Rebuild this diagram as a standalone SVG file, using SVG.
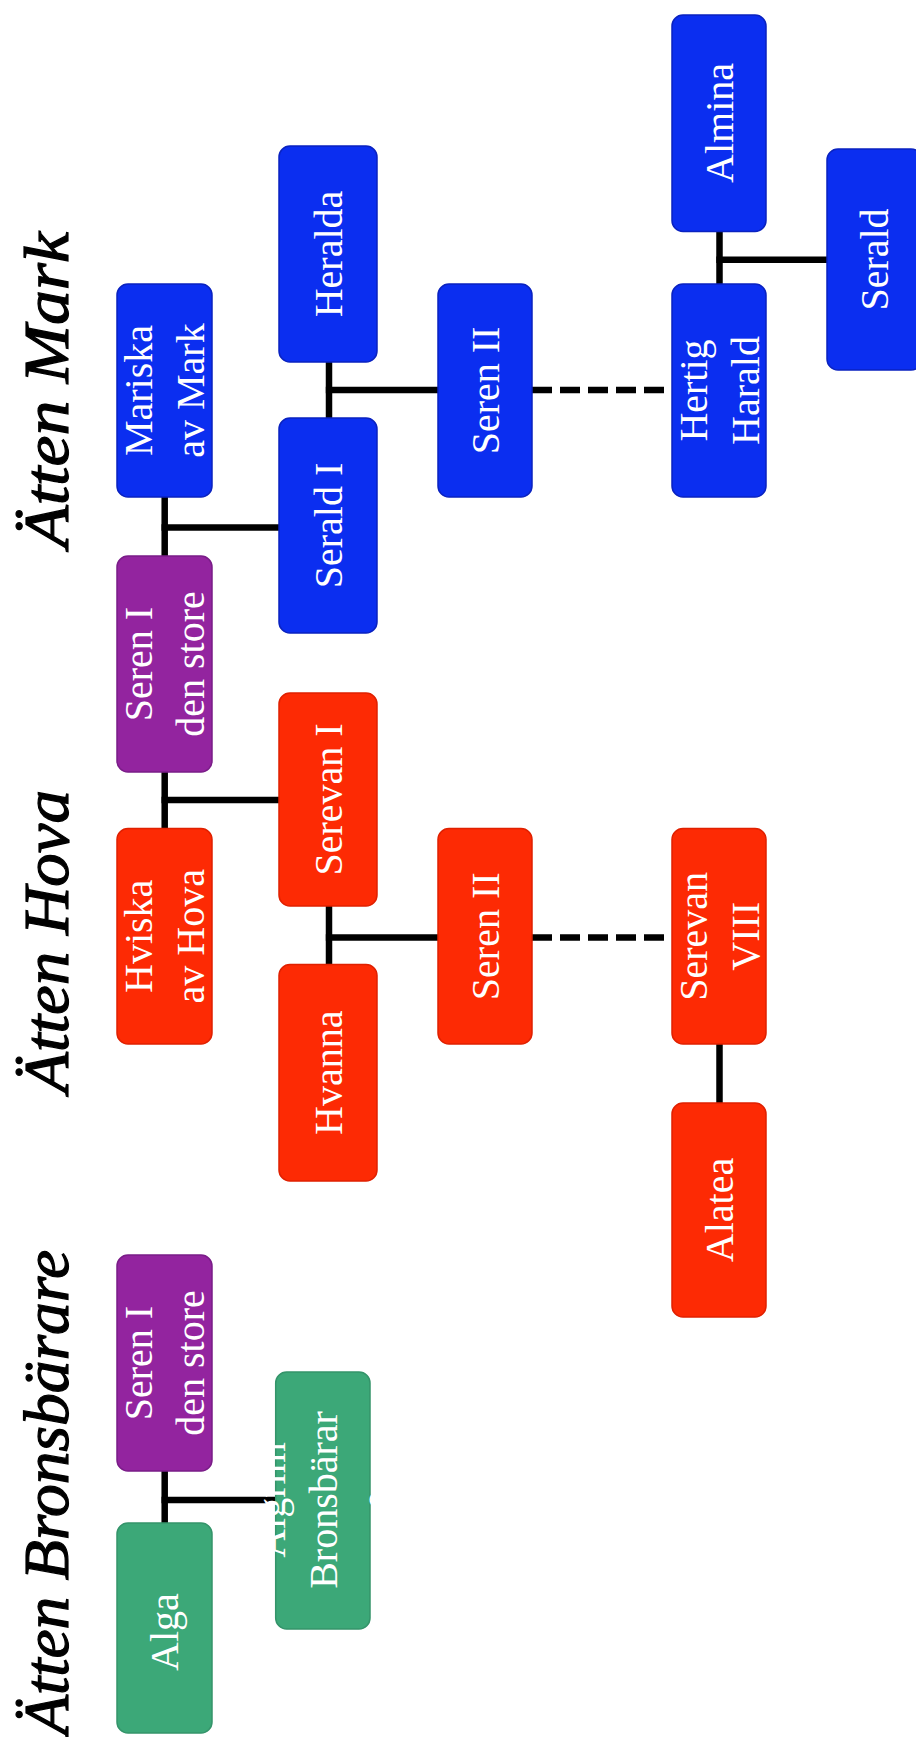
<svg xmlns="http://www.w3.org/2000/svg" width="916" height="1737" viewBox="0 0 916 1737">
<style>
.bg{fill:#ffffff}
.node rect{stroke-width:1.5}
.blue rect{fill:#0b2ef0;stroke:#0a22c0}
.red rect{fill:#fd2a04;stroke:#e02000}
.purple rect{fill:#93249f;stroke:#7a1c88}
.green rect{fill:#3ca878;stroke:#34946a}
.node text{fill:#ffffff;font-family:"Liberation Serif","Times New Roman",serif;font-size:40px;text-anchor:middle}
.title{fill:#000000;stroke:#000000;stroke-width:1.2;font-family:"Liberation Serif","Times New Roman",serif;font-style:italic;font-weight:normal;font-size:64px}
.conn line{stroke:#000000;stroke-width:6.5;fill:none}
.conn line.dash{stroke-dasharray:20 8}
</style>
<rect class="bg" x="0" y="0" width="916" height="1737"/>

<g id="titles">
<text class="title" transform="translate(68,548) rotate(-90)" textLength="316" lengthAdjust="spacingAndGlyphs">Ätten Mark</text>
<text class="title" transform="translate(68,1093) rotate(-90)" textLength="303" lengthAdjust="spacingAndGlyphs">Ätten Hova</text>
<text class="title" transform="translate(68,1735) rotate(-90)" textLength="485" lengthAdjust="spacingAndGlyphs">Ätten Bronsbärare</text>
</g>

<g id="connectors" class="conn">
<line x1="164.7" y1="497" x2="164.7" y2="556"/>
<line x1="161.5" y1="527.5" x2="279" y2="527.5"/>
<line x1="329" y1="362" x2="329" y2="418"/>
<line x1="325.8" y1="390" x2="438" y2="390"/>
<line class="dash" x1="532" y1="390" x2="672" y2="390"/>
<line x1="719.5" y1="231.5" x2="719.5" y2="284"/>
<line x1="716.3" y1="259.7" x2="827" y2="259.7"/>
<line x1="164.7" y1="772" x2="164.7" y2="828.6"/>
<line x1="161.5" y1="800" x2="279" y2="800"/>
<line x1="329" y1="906" x2="329" y2="964.5"/>
<line x1="325.8" y1="937.6" x2="438" y2="937.6"/>
<line class="dash" x1="532" y1="937.6" x2="672" y2="937.6"/>
<line x1="719.5" y1="1044" x2="719.5" y2="1103"/>
<line x1="164.7" y1="1471" x2="164.7" y2="1523"/>
<line x1="161.5" y1="1500" x2="275.7" y2="1500"/>
</g>

<g id="mariska" class="node blue"><rect x="117" y="284" width="95" height="213" rx="11"/>
<text transform="translate(164.5,390.5) rotate(-90)"><tspan x="0" y="-12.5">Mariska</tspan><tspan x="0" y="39.5">av Mark</tspan></text></g>
<g id="seren1-mark" class="node purple"><rect x="117" y="556" width="95" height="216" rx="11"/>
<text transform="translate(164.5,664) rotate(-90)"><tspan x="0" y="-12.5">Seren I</tspan><tspan x="0" y="39.5">den store</tspan></text></g>
<g id="heralda" class="node blue"><rect x="279" y="146" width="98" height="216" rx="11"/>
<text transform="translate(328,254) rotate(-90)" y="13.5">Heralda</text></g>
<g id="serald1" class="node blue"><rect x="279" y="418" width="98" height="215" rx="11"/>
<text transform="translate(328,525.5) rotate(-90)" y="13.5">Serald I</text></g>
<g id="seren2-mark" class="node blue"><rect x="438" y="284" width="94" height="213" rx="11"/>
<text transform="translate(485,390.5) rotate(-90)" y="13.5">Seren II</text></g>
<g id="almina" class="node blue"><rect x="672" y="15" width="94" height="216.5" rx="11"/>
<text transform="translate(719,123) rotate(-90)" y="13.5">Almina</text></g>
<g id="hertig-harald" class="node blue"><rect x="672" y="284" width="94" height="213" rx="11"/>
<text transform="translate(719,390.5) rotate(-90)"><tspan x="0" y="-12.5">Hertig</tspan><tspan x="0" y="39.5">Harald</tspan></text></g>
<g id="serald" class="node blue"><rect x="827" y="149" width="95" height="221" rx="11"/>
<text transform="translate(874.5,259.5) rotate(-90)" y="13.5">Serald</text></g>

<g id="serevan1" class="node red"><rect x="279" y="693" width="98" height="213" rx="11"/>
<text transform="translate(328,799.5) rotate(-90)" y="13.5">Serevan I</text></g>
<g id="hviska" class="node red"><rect x="117" y="828.6" width="95" height="215.4" rx="11"/>
<text transform="translate(164.5,936.3) rotate(-90)"><tspan x="0" y="-12.5">Hviska</tspan><tspan x="0" y="39.5">av Hova</tspan></text></g>
<g id="seren2-hova" class="node red"><rect x="438" y="828.6" width="94" height="215.4" rx="11"/>
<text transform="translate(485,936.3) rotate(-90)" y="13.5">Seren II</text></g>
<g id="serevan8" class="node red"><rect x="672" y="828.6" width="94" height="215.4" rx="11"/>
<text transform="translate(719,936.3) rotate(-90)"><tspan x="0" y="-12.5">Serevan</tspan><tspan x="0" y="39.5">VIII</tspan></text></g>
<g id="hvanna" class="node red"><rect x="279" y="964.5" width="98" height="216.5" rx="11"/>
<text transform="translate(328,1072.7) rotate(-90)" y="13.5">Hvanna</text></g>
<g id="alatea" class="node red"><rect x="672" y="1103" width="94" height="214" rx="11"/>
<text transform="translate(719,1210) rotate(-90)" y="13.5">Alatea</text></g>

<g id="seren1-brons" class="node purple"><rect x="117" y="1255" width="95" height="216" rx="11"/>
<text transform="translate(164.5,1363) rotate(-90)"><tspan x="0" y="-12.5">Seren I</tspan><tspan x="0" y="39.5">den store</tspan></text></g>
<g id="algrim" class="node green"><rect x="275.7" y="1372" width="94.3" height="257" rx="11"/>
<text transform="translate(323,1500) rotate(-90)"><tspan x="0" y="-38.5">Algrim</tspan><tspan x="0" y="13.5">Bronsbärar</tspan><tspan x="0" y="65.5">e</tspan></text></g>
<g id="alga" class="node green"><rect x="117" y="1523" width="95" height="210" rx="11"/>
<text transform="translate(164.5,1632) rotate(-90)" y="13.5">Alga</text></g>
</svg>
